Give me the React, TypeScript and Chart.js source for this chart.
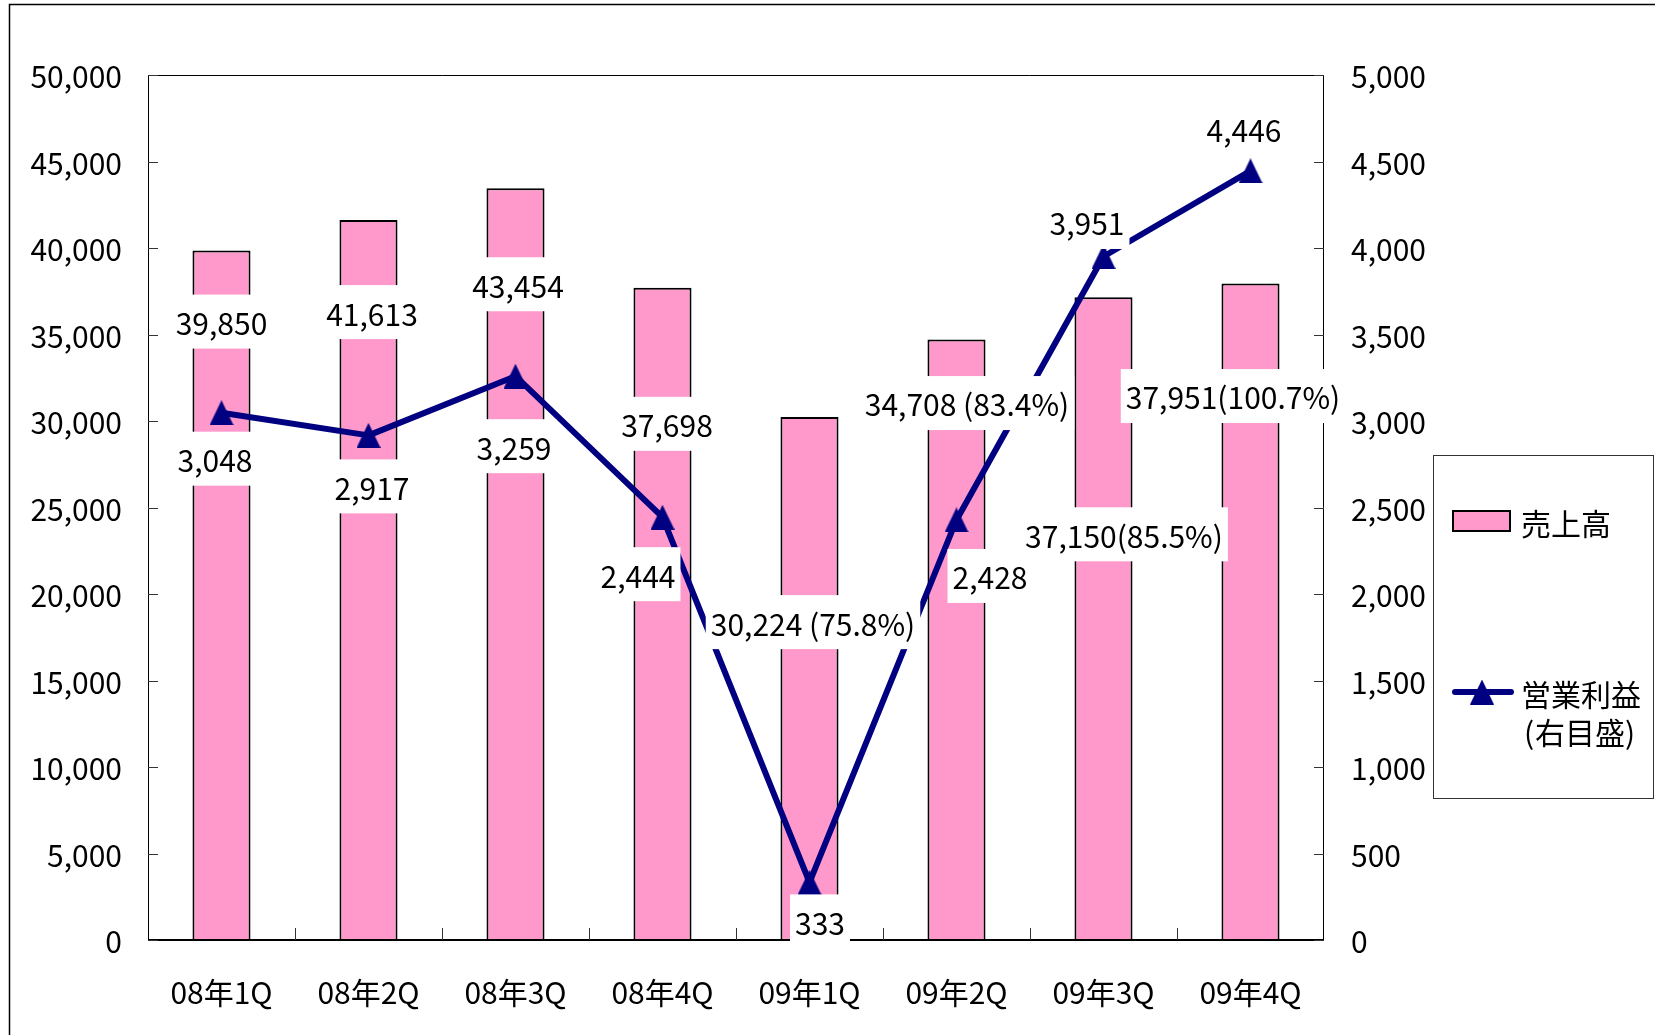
import React, { useEffect, useRef } from 'react';
import { Chart, registerables } from 'chart.js';

Chart.register(...registerables);

// ---------- data ----------
const categories = ['08年1Q', '08年2Q', '08年3Q', '08年4Q', '09年1Q', '09年2Q', '09年3Q', '09年4Q'];
const sales = [39850, 41613, 43454, 37698, 30224, 34708, 37150, 37951];
const operatingProfit = [3048, 2917, 3259, 2444, 333, 2428, 3951, 4446];
const salesRatio: (number | null)[] = [null, null, null, null, 75.8, 83.4, 85.5, 100.7];
const ratioSeparator = ['', '', '', '', ' ', ' ', '', ''];
const salesLabel = '売上高';
const profitLabel = ['営業利益', '(右目盛)'];

// label placement (pixel offsets from the mark, as in the original layout)
const salesLabelOffsets = [[0, 71], [3.5, 92], [2.5, 96], [4.5, 136], [3.5, 205], [10.5, 63.5], [20.5, 237], [-17.5, 112.6]];
const profitLabelOffsets = [[-6.5, 46], [3.5, 51], [-1.5, 70], [-24.5, 57], [10.5, 39], [33.5, 56], [-16.5, -34.5], [-6.5, -42]];

const FONT = '"Noto Sans CJK JP", "Noto Sans", sans-serif';
const FS = 30;
const PINK = '#FF99CC';
const NAVY = '#000080';

const fmt = (v: number) => v.toLocaleString('en-US');

function makeTriangle(): HTMLCanvasElement {
  const c = document.createElement('canvas');
  c.width = 24;
  c.height = 25;
  const g = c.getContext('2d')!;
  g.fillStyle = NAVY;
  g.beginPath();
  g.moveTo(12, 0);
  g.lineTo(24, 25);
  g.lineTo(0, 25);
  g.closePath();
  g.fill();
  return c;
}

function drawLabel(ctx: CanvasRenderingContext2D, text: string, cx: number, cy: number) {
  ctx.font = `${FS}px ${FONT}`;
  const w = ctx.measureText(text).width;
  ctx.fillStyle = '#fff';
  ctx.fillRect(cx - w / 2 - 5, cy - 27, w + 10, 54);
  ctx.fillStyle = '#000';
  ctx.textAlign = 'center';
  ctx.textBaseline = 'middle';
  ctx.fillText(text, cx, cy + 2);
}

export default function App() {
  const ref = useRef<HTMLCanvasElement>(null);

  useEffect(() => {
    const canvas = ref.current!;
    const tri = makeTriangle();

    const overlay = {
      id: 'overlay',
      afterDatasetsDraw(chart: any) {
        const { ctx, chartArea: a, scales } = chart;
        ctx.save();
        // frame
        ctx.strokeStyle = '#000';
        ctx.lineWidth = 1;
        ctx.beginPath();
        ctx.moveTo(a.left + 0.5, a.bottom);
        ctx.lineTo(a.left + 0.5, a.top + 0.5);
        ctx.lineTo(a.right - 0.5, a.top + 0.5);
        ctx.lineTo(a.right - 0.5, a.bottom);
        ctx.stroke();
        ctx.lineWidth = 2;
        ctx.beginPath();
        ctx.moveTo(a.left, a.bottom);
        ctx.lineTo(a.right, a.bottom);
        ctx.stroke();
        // inward ticks
        ctx.lineWidth = 1;
        ctx.strokeStyle = '#333';
        ctx.beginPath();
        scales.y.ticks.forEach((_t: any, i: number) => {
          const py = Math.round(scales.y.getPixelForTick(i)) + 0.5;
          ctx.moveTo(a.left, py);
          ctx.lineTo(a.left + 10, py);
        });
        scales.y1.ticks.forEach((_t: any, i: number) => {
          const py = Math.round(scales.y1.getPixelForTick(i)) + 0.5;
          ctx.moveTo(a.right, py);
          ctx.lineTo(a.right - 10, py);
        });
        for (let i = 1; i < categories.length; i++) {
          const px = Math.round((scales.x.getPixelForTick(i - 1) + scales.x.getPixelForTick(i)) / 2) + 0.5;
          ctx.moveTo(px, a.bottom);
          ctx.lineTo(px, a.bottom - 12);
        }
        ctx.stroke();

        // data labels
        const barMeta = chart.getDatasetMeta(1);
        barMeta.data.forEach((el: any, i: number) => {
          const r = salesRatio[i];
          const text = fmt(sales[i]) + (r != null ? `${ratioSeparator[i]}(${r}%)` : '');
          drawLabel(ctx, text, el.x + salesLabelOffsets[i][0], el.y + salesLabelOffsets[i][1]);
        });
        const lineMeta = chart.getDatasetMeta(0);
        lineMeta.data.forEach((el: any, i: number) => {
          drawLabel(ctx, fmt(operatingProfit[i]), el.x + profitLabelOffsets[i][0], el.y + profitLabelOffsets[i][1]);
        });
        ctx.restore();
      },
      afterDraw(chart: any) {
        const { ctx } = chart;
        ctx.save();
        // outer border
        ctx.strokeStyle = '#000';
        ctx.lineWidth = 1.5;
        ctx.strokeRect(9.5, 4.5, 3000, 3000);
        // legend
        ctx.strokeStyle = '#333';
        ctx.lineWidth = 1;
        ctx.strokeRect(1433.5, 455.5, 220, 343);
        ctx.fillStyle = PINK;
        ctx.fillRect(1452, 510, 59, 22);
        ctx.strokeStyle = '#000';
        ctx.lineWidth = 2;
        ctx.strokeRect(1453, 511, 57, 20);
        ctx.strokeStyle = NAVY;
        ctx.lineWidth = 6;
        ctx.lineCap = 'round';
        ctx.beginPath();
        ctx.moveTo(1455, 692);
        ctx.lineTo(1511, 692);
        ctx.stroke();
        ctx.drawImage(tri, 1482 - 12, 692 - 12.5);
        ctx.fillStyle = '#000';
        ctx.font = `${FS}px ${FONT}`;
        ctx.textAlign = 'left';
        ctx.textBaseline = 'middle';
        ctx.fillText(salesLabel, 1521, 524);
        ctx.fillText(profitLabel[0], 1521, 695);
        const sub = profitLabel[1];
        ctx.fillText(sub[0], 1524, 733);
        ctx.fillText(sub.slice(1, -1), 1535, 733);
        ctx.fillText(sub.slice(-1), 1625, 733);
        ctx.restore();
      },
    };

    const chart = new Chart(canvas, {
      type: 'bar',
      data: {
        labels: categories,
        datasets: [
          {
            type: 'line',
            label: profitLabel.join(''),
            data: operatingProfit,
            yAxisID: 'y1',
            order: 0,
            borderColor: NAVY,
            borderWidth: 6,
            backgroundColor: NAVY,
            pointStyle: tri as any,
            pointRadius: 12,
            tension: 0,
            borderJoinStyle: 'round',
          } as any,
          {
            type: 'bar',
            label: salesLabel,
            data: sales,
            yAxisID: 'y',
            order: 1,
            backgroundColor: PINK,
            borderColor: '#000',
            borderWidth: 2,
            borderSkipped: 'start',
            categoryPercentage: 1,
            barPercentage: 0.395,
          } as any,
        ],
      },
      options: {
        responsive: false,
        animation: false,
        devicePixelRatio: 1,
        layout: { padding: { top: 75, left: 0, right: 0, bottom: 0 } },
        plugins: { legend: { display: false }, tooltip: { enabled: false } },
        scales: {
          x: {
            grid: { display: false, drawTicks: false },
            border: { display: false },
            ticks: { color: '#000', font: { family: FONT, size: FS }, padding: 35, maxRotation: 0 },
            afterFit: (s: any) => { s.height = 95; },
          },
          y: {
            position: 'left',
            min: 0,
            max: 50000,
            grid: { display: false, drawTicks: false },
            border: { display: false },
            ticks: { stepSize: 5000, color: '#000', font: { family: FONT, size: FS }, padding: 26, labelOffset: 2, callback: (v: any) => fmt(Number(v)) },
            afterFit: (s: any) => { s.width = 148; },
          },
          y1: {
            position: 'right',
            min: 0,
            max: 5000,
            grid: { display: false, drawTicks: false },
            border: { display: false },
            ticks: { stepSize: 500, color: '#000', font: { family: FONT, size: FS }, padding: 27, labelOffset: 2, callback: (v: any) => fmt(Number(v)) },
            afterFit: (s: any) => { s.width = 331; },
          },
        },
      } as any,
      plugins: [overlay],
    });
    return () => chart.destroy();
  }, []);

  return (
    <div style={{ position: 'fixed', left: 0, top: 0, width: 1655, height: 1035, background: '#fff' }}>
      <canvas ref={ref} width={1655} height={1035} style={{ display: 'block' }} />
    </div>
  );
}
